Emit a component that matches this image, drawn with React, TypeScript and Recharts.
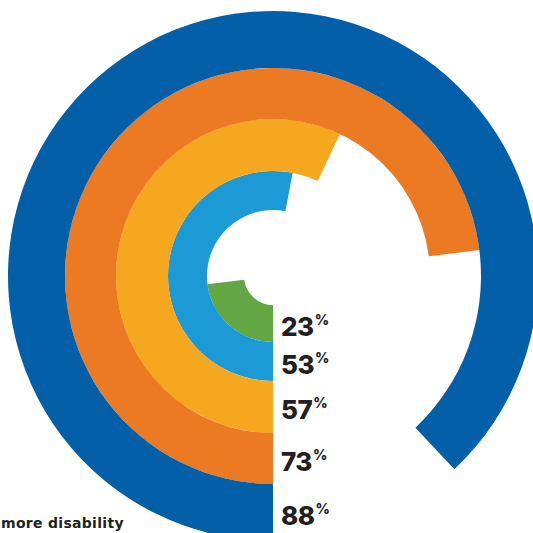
import { Cell, Pie, PieChart } from "recharts";

// share of respondents per group, innermost ring first
const values = [23, 53, 57, 73, 88];
const valueLabels = ["23", "53", "57", "73", "88"];
const footnote = "more disability";

const palette = ["#62a744", "#1b9ad6", "#f4a71f", "#ec7a23", "#035fa8"];
const rings = [
  { inner: 29, outer: 66 },
  { inner: 66, outer: 105 },
  { inner: 105, outer: 157 },
  { inner: 157, outer: 208 },
  { inner: 208, outer: 265 }
];

const CX = 273;
const CY = 276;

function renderValueLabel(props: any, text: string) {
  if (props.index !== 0) return null;
  const y = props.cy + (props.innerRadius + props.outerRadius) / 2 + 2;
  const x = props.cx + 8;
  return (
    <text x={x} y={y} dominantBaseline="central" fill="#231f20" fontFamily="Inter, sans-serif" fontWeight={800}>
      <tspan fontSize={26} letterSpacing={-0.5}>{text}</tspan>
      <tspan fontSize={14} dy={-7} dx={1}>%</tspan>
    </text>
  );
}

export default function App() {
  return (
    <div style={{ position: "absolute", left: 0, top: 0, width: 533, height: 533, overflow: "hidden", background: "#fff" }}>
      <PieChart width={533} height={533} margin={{ top: 0, right: 0, bottom: 0, left: 0 }}>
        {values.map((v, i) => (
          <Pie
            key={i}
            data={[{ name: "value", value: v }, { name: "rest", value: 100 - v }]}
            dataKey="value"
            cx={CX}
            cy={CY}
            innerRadius={rings[i].inner}
            outerRadius={rings[i].outer}
            startAngle={-90}
            endAngle={-450}
            stroke="none"
            labelLine={false}
            label={(p: any) => renderValueLabel(p, valueLabels[i])}
            isAnimationActive={false}
          >
            <Cell fill={palette[i]} />
            <Cell fill="transparent" />
          </Pie>
        ))}
      </PieChart>
      <div
        style={{
          position: "absolute",
          left: 1,
          top: 515,
          fontFamily: "'DejaVu Sans', sans-serif",
          fontWeight: 700,
          fontSize: 14,
          letterSpacing: 0.3,
          lineHeight: "16px",
          color: "#231f20",
          whiteSpace: "nowrap"
        }}
      >
        {footnote}
      </div>
    </div>
  );
}
